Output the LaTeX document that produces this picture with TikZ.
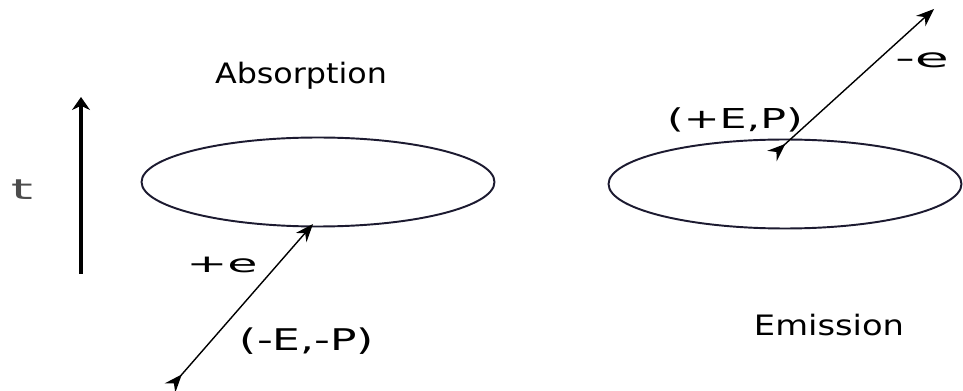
\documentclass[tikz,border=0pt]{standalone}
\usepackage{fontspec}
\usepackage{graphicx}
\setmainfont{DejaVu Sans}
\usetikzlibrary{arrows.meta,shapes.geometric}
\definecolor{LoopInk}{RGB}{28,26,48}
\definecolor{TimeGrey}{gray}{0.3}
\newcommand{\widelabel}[3]{\fontsize{#1}{#1}\selectfont\scalebox{#2}[1]{#3}}
\tikzset{
    feyn/diagram/.style={
        x=0.02cm, y=-0.02cm,
        line join=round,
        every node/.style={inner sep=0pt, outer sep=0pt}
    },
    feyn/loop/.style={
        ellipse, draw=LoopInk, line width=1.1pt,
        minimum width=7.06cm, minimum height=1.78cm
    },
    feyn/line/.style={
        draw=black, line width=0.8pt,
        {Stealth[length=3.6mm, width=2.8mm, inset=1.2mm, reversed]}-{Stealth[length=3.6mm, width=2.8mm, inset=1.2mm]}
    },
    feyn/time/.style={
        draw=black, line width=2.2pt,
        -{Stealth[length=2.6mm, width=3.6mm]}
    }
}
\begin{document}
\begin{tikzpicture}[feyn/diagram]
    \useasboundingbox[fill=white] (0,0) rectangle (963,391);
    % time axis
    \coordinate (t0) at (81,274);
    \coordinate (t1) at (81,97);
    \draw[feyn/time] (t0) -- (t1);
    \node[text=TimeGrey] (tlab) at (22,190) {\widelabel{16}{2}{t}};
    % absorption
    \node[feyn/loop] (absorb) at (318,182) {};
    \node[anchor=base] (abstitle) at (301,84) {\widelabel{16}{1.13}{Absorption}};
    \coordinate (ain) at (170,388);
    \coordinate (aout) at (313,224);
    \draw[feyn/line] (ain) -- (aout);
    \node (pos) at (222,265) {\widelabel{14}{2}{+e}};
    \node (aep) at (307,341) {\widelabel{17}{1.47}{(-E,-P)}};
    % emission
    \node[feyn/loop] (emit) at (785,184) {};
    \node[anchor=base] (emtitle) at (829,336) {\widelabel{16}{1.2}{Emission}};
    \coordinate (ein) at (772,156);
    \coordinate (eout) at (934,9);
    \draw[feyn/line] (ein) -- (eout);
    \node (neg) at (922,60) {\widelabel{15}{2.1}{-e}};
    \node (eep) at (735,120) {\widelabel{15.6}{1.56}{(+E,P)}};
\end{tikzpicture}
\end{document}
